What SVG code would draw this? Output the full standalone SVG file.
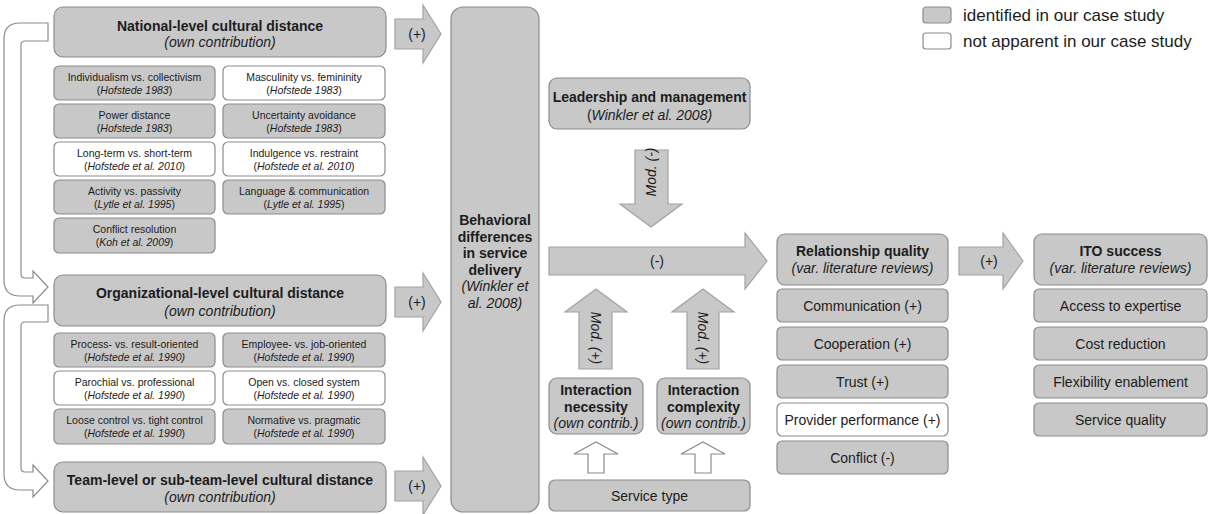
<svg xmlns="http://www.w3.org/2000/svg" width="1208" height="514" viewBox="0 0 1208 514">
<style>
text{font-family:"Liberation Sans",Arial,sans-serif;fill:#1c1c1c;text-anchor:middle}
.g{fill:#c8c8c8;stroke:#8c8c8c;stroke-width:1.2}
.w{fill:#ffffff;stroke:#8c8c8c;stroke-width:1.2}
.ar{fill:#c8c8c8;stroke:#a2a2a2;stroke-width:1.2}
.ha{fill:#ffffff;stroke:#8c8c8c;stroke-width:1.2}
.t{font-size:14px;font-weight:bold}
.i{font-size:14px;font-style:italic}
.n{font-size:14px}
.s{font-size:10.5px}
.it{font-style:italic}
.lg{font-size:17px;text-anchor:start}
</style>
<rect width="1208" height="514" fill="#ffffff"/>
<g id="legend">
<rect class="g" x="923" y="7" width="28" height="16" rx="3"/>
<rect class="w" x="923" y="33" width="28" height="16" rx="3"/>
<text class="lg" x="963" y="21">identified in our case study</text>
<text class="lg" x="963" y="47">not apparent in our case study</text>
</g>
<g id="connectors">
<path class="ha" d="M48,23 H20 Q4,23 4,39 V280 Q4,296 20,296 H33 V303 L48,287 L33,271 V278 H25 Q21,278 21,274 V45 Q21,41 25,41 H48 Z"/>
<path class="ha" d="M48,305 H20 Q4,305 4,321 V474 Q4,490 20,490 H33 V497 L48,481 L33,465 V472 H25 Q21,472 21,468 V326 Q21,322 25,322 H48 Z"/>
<path class="ar" d="M395,19 H423 V5 L441,34 L423,63 V49 H395 Z"/>
<text class="n" x="417" y="39">(+)</text>
<path class="ar" d="M395,287 H423 V273 L441,302 L423,331 V317 H395 Z"/>
<text class="n" x="417" y="307">(+)</text>
<path class="ar" d="M395,471 H423 V457 L441,486 L423,515 V501 H395 Z"/>
<text class="n" x="417" y="491">(+)</text>
<path class="ar" d="M549,247 H745 V233 L767,261 L745,289 V275 H549 Z"/>
<text class="n" x="657" y="266">(-)</text>
<path class="ar" d="M635,150 H668 V204 H682 L651,227 L620,204 H635 Z"/>
<text class="i" transform="translate(656,172) rotate(-90)">Mod. (-)</text>
<path class="ar" d="M579,369 V312 H565 L596,289 L627,312 H612 V369 Z"/>
<text class="i" transform="translate(591,338) rotate(90)">Mod. (+)</text>
<path class="ar" d="M687,369 V312 H672 L703,289 L734,312 H719 V369 Z"/>
<text class="i" transform="translate(698,338) rotate(90)">Mod. (+)</text>
<path class="ha" d="M588,473 V454 H574 L596,442 L618,454 H604 V473 Z"/>
<path class="ha" d="M695,473 V454 H681 L703,442 L725,454 H711 V473 Z"/>
<path class="ar" d="M959,247 H1003 V233 L1023,261 L1003,289 V275 H959 Z"/>
<text class="n" x="989" y="266">(+)</text>
</g>
<g id="national">
<rect class="g" x="54" y="7" width="332" height="50" rx="9"/>
<text class="t" x="220" y="31">National-level cultural distance</text>
<text class="i" x="220" y="47">(own contribution)</text>
</g>
<g id="national-items">
<rect class="g" x="54" y="66" width="161" height="34" rx="5"/>
<text class="s" x="134.5" y="81">Individualism vs. collectivism</text>
<text class="s" x="134.5" y="94">(<tspan class="it">Hofstede 1983</tspan>)</text>
<rect class="w" x="223" y="66" width="162" height="34" rx="5"/>
<text class="s" x="304" y="81">Masculinity vs. femininity</text>
<text class="s" x="304" y="94">(<tspan class="it">Hofstede 1983</tspan>)</text>
<rect class="g" x="54" y="104" width="161" height="34" rx="5"/>
<text class="s" x="134.5" y="119">Power distance</text>
<text class="s" x="134.5" y="132">(<tspan class="it">Hofstede 1983</tspan>)</text>
<rect class="g" x="223" y="104" width="162" height="34" rx="5"/>
<text class="s" x="304" y="119">Uncertainty avoidance</text>
<text class="s" x="304" y="132">(<tspan class="it">Hofstede 1983</tspan>)</text>
<rect class="w" x="54" y="142" width="161" height="34" rx="5"/>
<text class="s" x="134.5" y="157">Long-term vs. short-term</text>
<text class="s" x="134.5" y="170">(<tspan class="it">Hofstede et al. 2010</tspan>)</text>
<rect class="w" x="223" y="142" width="162" height="34" rx="5"/>
<text class="s" x="304" y="157">Indulgence vs. restraint</text>
<text class="s" x="304" y="170">(<tspan class="it">Hofstede et al. 2010</tspan>)</text>
<rect class="g" x="54" y="180" width="161" height="34" rx="5"/>
<text class="s" x="134.5" y="195">Activity vs. passivity</text>
<text class="s" x="134.5" y="208">(<tspan class="it">Lytle et al. 1995</tspan>)</text>
<rect class="g" x="223" y="180" width="162" height="34" rx="5"/>
<text class="s" x="304" y="195">Language &amp; communication</text>
<text class="s" x="304" y="208">(<tspan class="it">Lytle et al. 1995</tspan>)</text>
<rect class="g" x="54" y="218" width="161" height="35" rx="5"/>
<text class="s" x="134.5" y="233">Conflict resolution</text>
<text class="s" x="134.5" y="246">(<tspan class="it">Koh et al. 2009</tspan>)</text>
</g>
<g id="organizational">
<rect class="g" x="54" y="275" width="332" height="51" rx="9"/>
<text class="t" x="220" y="298">Organizational-level cultural distance</text>
<text class="i" x="220" y="316">(own contribution)</text>
</g>
<g id="organizational-items">
<rect class="g" x="54" y="333" width="161" height="34" rx="5"/>
<text class="s" x="134.5" y="348">Process- vs. result-oriented</text>
<text class="s" x="134.5" y="361">(<tspan class="it">Hofstede et al. 1990)</tspan></text>
<rect class="g" x="223" y="333" width="162" height="34" rx="5"/>
<text class="s" x="304" y="348">Employee- vs. job-oriented</text>
<text class="s" x="304" y="361">(<tspan class="it">Hofstede et al. 1990</tspan>)</text>
<rect class="w" x="54" y="371" width="161" height="34" rx="5"/>
<text class="s" x="134.5" y="386">Parochial vs. professional</text>
<text class="s" x="134.5" y="399">(<tspan class="it">Hofstede et al. 1990</tspan>)</text>
<rect class="w" x="223" y="371" width="162" height="34" rx="5"/>
<text class="s" x="304" y="386">Open vs. closed system</text>
<text class="s" x="304" y="399">(<tspan class="it">Hofstede et al. 1990</tspan>)</text>
<rect class="g" x="54" y="409" width="161" height="35" rx="5"/>
<text class="s" x="134.5" y="424">Loose control vs. tight control</text>
<text class="s" x="134.5" y="437">(<tspan class="it">Hofstede et al. 1990</tspan>)</text>
<rect class="g" x="223" y="409" width="162" height="35" rx="5"/>
<text class="s" x="304" y="424">Normative vs. pragmatic</text>
<text class="s" x="304" y="437">(<tspan class="it">Hofstede et al. 1990</tspan>)</text>
</g>
<g id="team">
<rect class="g" x="54" y="462" width="332" height="50" rx="9"/>
<text class="t" x="220" y="485">Team-level or sub-team-level cultural distance</text>
<text class="i" x="220" y="502">(own contribution)</text>
</g>
<g id="behavioral">
<rect class="g" x="451" y="7" width="88" height="505" rx="12"/>
<text class="t" x="495" y="225">Behavioral</text>
<text class="t" x="495" y="242">differences</text>
<text class="t" x="495" y="258">in service</text>
<text class="t" x="495" y="275">delivery</text>
<text class="i" x="495" y="291">(Winkler et</text>
<text class="i" x="495" y="308">al. 2008)</text>
</g>
<g id="leadership">
<rect class="g" x="549" y="78" width="201" height="51" rx="8"/>
<text class="t" x="649.5" y="102">Leadership and management</text>
<text class="n" x="649.5" y="120">(<tspan class="it">Winkler et al. 2008)</tspan></text>
</g>
<g id="interaction-necessity">
<rect class="g" x="549" y="378" width="94" height="56" rx="8"/>
<text class="t" x="596" y="395">Interaction</text>
<text class="t" x="596" y="412">necessity</text>
<text class="i" x="596" y="428">(own contrib.)</text>
</g>
<g id="interaction-complexity">
<rect class="g" x="657" y="378" width="93" height="56" rx="8"/>
<text class="t" x="703.5" y="395">Interaction</text>
<text class="t" x="703.5" y="412">complexity</text>
<text class="i" x="703.5" y="428">(own contrib.)</text>
</g>
<g id="service-type">
<rect class="g" x="549" y="480" width="201" height="31" rx="6"/>
<text class="n" x="649.5" y="501">Service type</text>
</g>
<g id="relationship">
<rect class="g" x="777" y="234" width="171" height="51" rx="8"/>
<text class="t" x="862.5" y="256">Relationship quality</text>
<text class="i" x="862.5" y="273">(var. literature reviews)</text>
<rect class="g" x="777" y="289" width="171" height="33" rx="5"/>
<text class="n" x="862.5" y="311">Communication (+)</text>
<rect class="g" x="777" y="327" width="171" height="33" rx="5"/>
<text class="n" x="862.5" y="349">Cooperation (+)</text>
<rect class="g" x="777" y="365" width="171" height="33" rx="5"/>
<text class="n" x="862.5" y="387">Trust (+)</text>
<rect class="w" x="777" y="403" width="171" height="33" rx="5"/>
<text class="n" x="862.5" y="425">Provider performance (+)</text>
<rect class="g" x="777" y="441" width="171" height="33" rx="5"/>
<text class="n" x="862.5" y="463">Conflict (-)</text>
</g>
<g id="ito">
<rect class="g" x="1034" y="234" width="173" height="51" rx="8"/>
<text class="t" x="1120.5" y="256">ITO success</text>
<text class="i" x="1120.5" y="273">(var. literature reviews)</text>
<rect class="g" x="1034" y="289" width="173" height="33" rx="5"/>
<text class="n" x="1120.5" y="311">Access to expertise</text>
<rect class="g" x="1034" y="327" width="173" height="33" rx="5"/>
<text class="n" x="1120.5" y="349">Cost reduction</text>
<rect class="g" x="1034" y="365" width="173" height="33" rx="5"/>
<text class="n" x="1120.5" y="387">Flexibility enablement</text>
<rect class="g" x="1034" y="403" width="173" height="33" rx="5"/>
<text class="n" x="1120.5" y="425">Service quality</text>
</g>
</svg>
